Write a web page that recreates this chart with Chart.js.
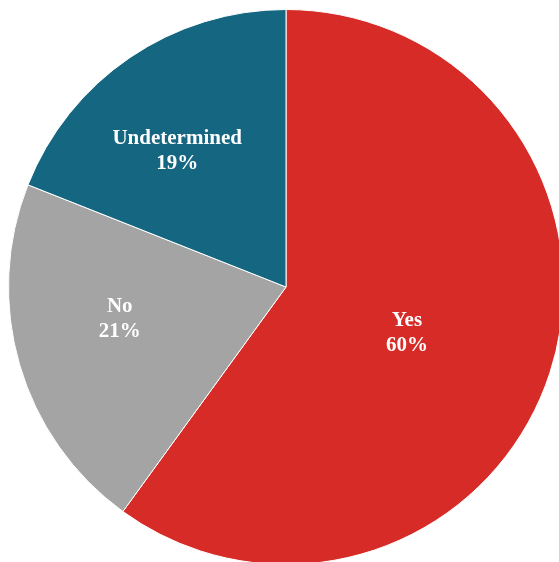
<!DOCTYPE html>
<html>
<head>
<meta charset="utf-8">
<script src="https://cdn.jsdelivr.net/npm/chart.js@4"></script>
<style>
    html, body { margin: 0; padding: 0; background: #fff; overflow: hidden; }
    #wrap { position: absolute; left: 0; top: 0; width: 572px; height: 574px; }
</style>
</head>
<body>
<div id="wrap"><canvas id="chart-pie"></canvas></div>
<script>
// данные
const categories = ["Yes", "No", "Undetermined"];
const values = [60, 21, 19];
const colors = ["#D62B27", "#A3A4A3", "#156680"];

/** Подписи внутри секторов: название + процент */
const sliceLabels = {
    id: "sliceLabels",
    afterDatasetsDraw(chart, args, opts) {
        const ctx = chart.ctx;
        const meta = chart.getDatasetMeta(0);
        ctx.save();
        ctx.fillStyle = "#fff";
        ctx.textAlign = "center";
        ctx.textBaseline = "middle";
        ctx.font = "bold 21px 'Liberation Serif', serif";
        meta.data.forEach((arc, i) => {
            const p = arc.getProps(["x", "y", "startAngle", "endAngle", "outerRadius"], true);
            const mid = (p.startAngle + p.endAngle) / 2 + (opts.shift[i] || 0) * Math.PI / 180;
            const r = p.outerRadius * opts.dist[i];
            const x = p.x + Math.cos(mid) * r;
            const y = p.y + Math.sin(mid) * r;
            ctx.fillText(categories[i], x, y - 12);
            ctx.fillText(values[i] + "%", x, y + 13);
        });
        ctx.restore();
    }
};

new Chart(document.getElementById("chart-pie").getContext("2d"), {
    type: "pie",
    data: {
        labels: categories,
        datasets: [{
            data: values,
            backgroundColor: colors,
            borderColor: "#fff",
            borderWidth: 1
        }]
    },
    options: {
        responsive: true,
        maintainAspectRatio: false,
        animation: false,
        layout: { padding: { left: 8, right: 8, top: 9, bottom: 9 } },
        plugins: {
            legend: { display: false },
            tooltip: { enabled: false },
            sliceLabels: { dist: [0.466, 0.61, 0.63], shift: [2.8, 5.4, -4.3] }
        }
    },
    plugins: [sliceLabels]
});
</script>
</body>
</html>
